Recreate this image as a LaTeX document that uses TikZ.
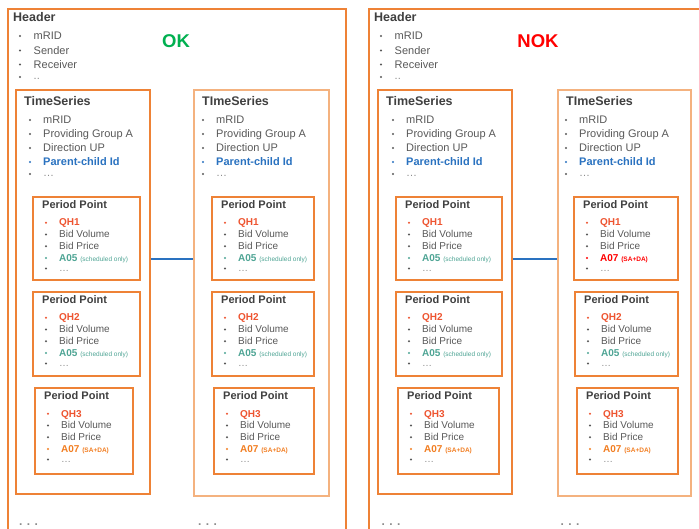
\documentclass[tikz,border=0pt]{standalone}
\usepackage{fontspec}
\setmainfont{Liberation Sans}
\usetikzlibrary{shadows}
\definecolor{obox}{HTML}{EE8236}
\definecolor{olight}{HTML}{F4B27F}
\definecolor{txtgrey}{HTML}{595959}
\definecolor{dotgrey}{HTML}{8C8C8C}
\definecolor{ttlgrey}{HTML}{404040}
\definecolor{qhcol}{HTML}{EE5430}
\definecolor{tealcol}{HTML}{4FA595}
\definecolor{a07col}{HTML}{F27E22}
\definecolor{nokred}{HTML}{FF0000}
\definecolor{okgreen}{HTML}{00B050}
\definecolor{pcblue}{HTML}{2A72C0}
\tikzset{
  outerbox/.style={draw=obox, line width=1.7pt, fill=none, inner sep=0pt},
  tsbox/.style={line width=1.7pt, fill=white, inner sep=0pt,
    drop shadow={opacity=0.18, shadow xshift=1pt, shadow yshift=-1.2pt}},
  ppbox/.style={draw=obox, line width=1.7pt, fill=white, inner sep=0pt,
    drop shadow={opacity=0.25, shadow xshift=1pt, shadow yshift=-1.2pt}},
  bigttl/.style={font=\fontsize{12.5}{14}\selectfont\bfseries, text=ttlgrey, inner sep=0pt, anchor=base west},
  ppttl/.style={font=\fontsize{11}{13}\selectfont\bfseries, text=ttlgrey, inner sep=0pt, anchor=base west},
  itm/.style={font=\fontsize{11}{13}\selectfont, text=txtgrey, inner sep=0pt, anchor=base west},
  smitm/.style={font=\fontsize{10}{12}\selectfont, text=txtgrey, inner sep=0pt, anchor=base west},
  verdict/.style={font=\fontsize{18.5}{20}\selectfont\bfseries, inner sep=0pt},
  link/.style={draw=pcblue, line width=2.3pt},
  moredots/.style={font=\fontsize{12}{14}\selectfont\bfseries, text=dotgrey, inner sep=0pt, anchor=base},
}
\newcommand\bul{1.15pt}
% period point box: name, x, y, w, h, QH label, 4th item, 4th colour
\newcommand\ppblock[8]{%
  \node[ppbox, minimum width=#4pt, minimum height=#5pt, anchor=north west] (#1) at (#2,#3) {};
  \begin{scope}[shift={(#2,#3)}]
    \node[ppttl] (#1-t) at (10,12.5) {Period Point};
    \fill[qhcol] (14,26.8) circle (\bul);
    \node[smitm, text=qhcol, font=\fontsize{10}{12}\selectfont\bfseries] (#1-a) at (27,30) {#6};
    \fill[txtgrey] (14,38.5) circle (\bul);
    \node[smitm] (#1-b) at (27,41.7) {Bid Volume};
    \fill[txtgrey] (14,50.2) circle (\bul);
    \node[smitm] (#1-c) at (27,53.4) {Bid Price};
    \fill[#8] (14,62) circle (\bul);
    \node[smitm, text=#8] (#1-d) at (27,65.1) {#7};
    \fill[txtgrey] (14,72.5) circle (\bul);
    \node[smitm, text=dotgrey] (#1-e) at (27,75.5) {…};
  \end{scope}}
% time series box: name, x, y, w, h, border colour, title, text offset
\newcommand\tsblock[8]{%
  \node[tsbox, draw=#6, minimum width=#4pt, minimum height=#5pt, anchor=north west] (#1) at (#2,#3) {};
  \begin{scope}[shift={(#2,#3)}]
    \node[bigttl] (#1-t) at (9,16.5) {#7};
    \fill[txtgrey] (#8-13,31) circle (\bul);
    \node[itm] (#1-a) at (#8,35) {mRID};
    \fill[txtgrey] (#8-13,45) circle (\bul);
    \node[itm] (#1-b) at (#8,49) {Providing Group A};
    \fill[txtgrey] (#8-13,59) circle (\bul);
    \node[itm] (#1-c) at (#8,63) {Direction UP};
    \fill[pcblue] (#8-13,73) circle (\bul);
    \node[itm, text=pcblue, font=\fontsize{11}{13}\selectfont\bfseries] (#1-d) at (#8,77) {Parent-child Id};
    \fill[txtgrey] (#8-13,85) circle (\bul);
    \node[itm, text=dotgrey] (#1-e) at (#8,88) {…};
  \end{scope}}
% header contents: name prefix, x, y
\newcommand\hdrtext[3]{%
  \begin{scope}[shift={(#2,#3)}]
    \node[bigttl] (#1-t) at (6,13.5) {Header};
    \fill[txtgrey] (13,28) circle (\bul);
    \node[itm] (#1-a) at (26.5,32) {mRID};
    \fill[txtgrey] (13,42.5) circle (\bul);
    \node[itm] (#1-b) at (26.5,46.5) {Sender};
    \fill[txtgrey] (13,56.5) circle (\bul);
    \node[itm] (#1-c) at (26.5,60.5) {Receiver};
    \fill[txtgrey] (13,69) circle (\bul);
    \node[itm, text=dotgrey] (#1-d) at (26.5,72) {..};
  \end{scope}}
\newcommand\afive{\textbf{A05} {\fontsize{6.5}{7}\selectfont(scheduled only)}}
\newcommand\aseven{\textbf{A07} {\fontsize{6.5}{7}\selectfont\bfseries(SA+DA)}}
\begin{document}
\begin{tikzpicture}[x=1pt, y=-1pt]
\useasboundingbox (0,0) rectangle (699,529);
\fill[white] (0,0) rectangle (699,529);
\clip (0,0) rectangle (699,529);

% ---------------- left: OK ----------------
\node[outerbox, minimum width=338pt, minimum height=545pt, anchor=north west] (hdrL) at (7,8) {};
\hdrtext{hL}{7}{8}
\node[verdict, text=okgreen] (ok) at (176,41) {OK};

\tsblock{tsLa}{15}{89}{134}{404}{obox}{TimeSeries}{28}
\tsblock{tsLb}{193}{89}{135}{406}{olight}{TImeSeries}{23}

\ppblock{ppLa1}{32}{196}{107}{83}{QH1}{\afive}{tealcol}
\ppblock{ppLa2}{32}{291}{107}{84}{QH2}{\afive}{tealcol}
\ppblock{ppLa3}{34}{387}{98}{86}{QH3}{\aseven}{a07col}

\ppblock{ppLb1}{211}{196}{102}{83}{QH1}{\afive}{tealcol}
\ppblock{ppLb2}{211}{291}{102}{84}{QH2}{\afive}{tealcol}
\ppblock{ppLb3}{213}{387}{100}{86}{QH3}{\aseven}{a07col}

\draw[link] (tsLa.east |- {0,259}) -- (tsLb.west |- {0,259});

\node[moredots] (moreLa) at (28.5,525) {. . .};
\node[moredots] (moreLb) at (207.5,525) {. . .};

% ---------------- right: NOK ----------------
\node[outerbox, minimum width=345pt, minimum height=545pt, anchor=north west] (hdrR) at (368,8) {};
\hdrtext{hR}{368}{8}
\node[verdict, text=nokred] (nok) at (538,41) {NOK};

\tsblock{tsRa}{377}{89}{134}{404}{obox}{TimeSeries}{29}
\tsblock{tsRb}{557}{89}{133}{406}{olight}{TImeSeries}{22}

\ppblock{ppRa1}{395}{196}{106}{83}{QH1}{\afive}{tealcol}
\ppblock{ppRa2}{395}{291}{106}{84}{QH2}{\afive}{tealcol}
\ppblock{ppRa3}{397}{387}{101}{86}{QH3}{\aseven}{a07col}

\ppblock{ppRb1}{573}{196}{104}{83}{QH1}{\aseven}{nokred}
\ppblock{ppRb2}{574}{291}{103}{84}{QH2}{\afive}{tealcol}
\ppblock{ppRb3}{576}{387}{101}{86}{QH3}{\aseven}{a07col}

\draw[link] (tsRa.east |- {0,259}) -- (tsRb.west |- {0,259});

\node[moredots] (moreRa) at (391,525) {. . .};
\node[moredots] (moreRb) at (570,525) {. . .};
\end{tikzpicture}
\end{document}
